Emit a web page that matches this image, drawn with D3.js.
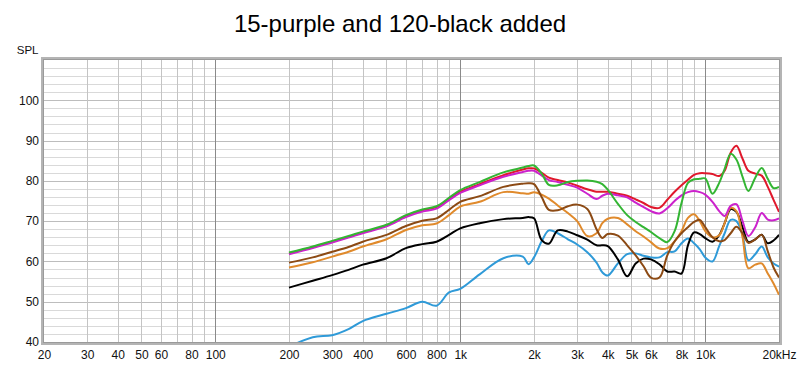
<!DOCTYPE html>
<html>
<head>
<meta charset="utf-8">
<script src="https://cdn.jsdelivr.net/npm/d3@7"></script>
<style>
  html, body { margin: 0; padding: 0; background: #fff; }
  svg { display: block; }
  text { font-family: Arial, "Liberation Sans", sans-serif; }
</style>
</head>
<body>
<script>
// ---- data ----
const title = "15-purple and 120-black added";
const yLabel = "SPL";
const freqs = [200,250,300,350,400,500,600,700,800,900,1000,1200,1500,1800,1900,2000,2150,2300,2500,2750,3000,3300,3600,3800,4000,4400,4800,5200,5600,6000,6500,7000,7500,8000,8500,9000,9500,10000,10700,11400,12000,12700,13400,14200,15000,16000,17000,18000,19000,20000];

const greenSPL   = [62.2,63.7,65.1,66.3,67.4,69.1,71.5,72.9,73.7,75.8,77.7,79.7,82.1,83.3,83.7,83.8,81.8,79.0,78.9,79.7,80.0,80.1,79.8,79.2,77.8,74.3,71.5,69.8,68.5,67.3,65.8,64.8,67.5,74.5,79.5,80.4,80.5,80.6,76.8,79.5,83.0,86.7,85.3,81.0,77.5,80.8,83.2,80.5,78.2,78.5];
const redSPL     = [62.0,63.5,64.9,66.1,67.2,68.9,71.3,72.7,73.5,75.5,77.3,79.2,81.4,82.8,83.1,83.1,82.0,80.8,80.2,79.6,78.8,77.9,77.3,77.3,77.3,76.8,76.3,75.4,74.5,73.5,73.3,75.3,77.3,78.9,80.3,81.5,81.9,81.9,81.7,81.2,82.5,87.0,88.7,85.5,82.5,81.8,81.3,78.5,75.3,72.3];
const magentaSPL = [61.8,63.3,64.7,65.9,67.0,68.7,71.0,72.4,73.1,75.2,77.0,78.9,81.0,82.2,82.5,82.5,81.3,80.2,79.7,79.0,78.3,76.8,75.5,76.3,76.8,76.4,75.9,74.6,73.5,72.5,71.9,73.2,75.0,76.4,77.2,77.5,77.2,76.6,74.8,72.5,71.3,73.8,74.2,70.0,66.3,68.5,72.0,70.4,70.2,70.7];
const brownSPL   = [59.7,61.0,62.4,63.6,64.9,66.6,68.8,70.1,70.7,72.8,74.8,76.2,78.5,79.3,79.4,79.2,76.0,72.8,72.7,73.7,74.1,73.0,68.0,65.8,66.8,66.4,64.0,61.5,58.8,56.0,56.0,61.5,65.0,67.0,68.5,69.8,70.3,68.5,66.0,65.0,65.3,67.0,68.6,67.0,64.6,65.5,66.6,62.5,58.5,56.0];
const orangeSPL  = [58.5,59.8,61.2,62.4,63.7,65.5,67.8,69.0,69.4,71.5,73.6,74.8,77.2,76.9,76.8,77.2,76.6,75.6,73.9,72.0,70.0,66.3,67.0,69.5,70.6,70.8,69.2,67.5,66.2,64.8,63.2,63.3,65.0,67.5,70.8,71.7,70.0,67.5,66.0,66.5,69.5,73.3,72.5,66.0,58.3,59.2,59.5,57.0,54.5,51.7];
const blackSPL   = [53.5,55.2,56.6,57.9,59.2,60.8,63.3,64.3,64.9,66.6,68.2,69.5,70.5,70.8,71.0,70.7,65.3,64.4,67.7,67.4,66.5,65.4,64.0,64.0,63.8,60.5,56.3,59.5,60.7,60.5,59.3,57.5,57.5,57.0,64.0,67.2,66.8,65.8,64.9,66.5,69.5,73.0,72.3,68.5,64.8,65.5,66.6,64.5,65.2,66.6];
const blueSPL    = [38.8,41.2,41.7,43.2,45.2,47.0,48.4,50.0,49.0,52.3,53.2,56.8,60.8,61.2,59.3,61.0,65.0,67.7,67.0,65.5,64.2,62.3,59.7,57.3,56.5,59.5,61.8,62.0,61.4,61.0,61.0,62.3,62.5,64.5,65.7,64.5,63.0,61.0,60.0,63.8,67.0,70.3,70.0,66.5,60.3,61.8,63.7,61.0,59.5,58.7];

const seriesNames  = ["blue","black","orange","brown","red","magenta","green"];
const seriesColors = ["#2f9ad8","#000000","#e08a2c","#8c4a14","#e0182c","#cc22cc","#33b533"];
const seriesValues = [blueSPL, blackSPL, orangeSPL, brownSPL, redSPL, magentaSPL, greenSPL];

const xTickValues = [20,30,40,50,60,80,100,200,300,400,600,800,1000,2000,3000,4000,5000,6000,8000,10000,20000];
const xTickLabels = ["20","30","40","50","60","80","100","200","300","400","600","800","1k","2k","3k","4k","5k","6k","8k","10k","20kHz"];
const xGridMinor  = [30,40,50,60,70,80,90,200,300,400,500,600,700,800,900,2000,3000,4000,5000,6000,7000,8000,9000];
const xGridMajor  = [100,1000,10000];
const yTickValues = [40,50,60,70,80,90,100];

// ---- layout ----
const W = 800, H = 367;
const mLeft = 44, mRight = 779, mTop = 60, mBottom = 342;

const svg = d3.select("body").append("svg").attr("width", W).attr("height", H);

const x = d3.scaleLog().domain([20, 20000]).range([mLeft, mRight]);
const y = d3.scaleLinear().domain([40, 110]).range([mBottom, mTop]);

// title
svg.append("text").attr("x", 400).attr("y", 31.5).attr("text-anchor", "middle")
  .attr("font-size", "24px").attr("fill", "#000").text(title);

// SPL label
svg.append("text").attr("x", 38.5).attr("y", 54).attr("text-anchor", "end")
  .attr("font-size", "11.5px").attr("fill", "#111").text(yLabel);

// horizontal grid
const hLines = d3.range(42, 110, 2);
svg.append("g").selectAll("line").data(hLines).join("line")
  .attr("x1", mLeft).attr("x2", mRight)
  .attr("y1", d => Math.round(y(d)) + 0.5).attr("y2", d => Math.round(y(d)) + 0.5)
  .attr("stroke", d => d % 10 === 0 ? "#bdbdbd" : "#d9d9d9").attr("stroke-width", 1);

// vertical grid
svg.append("g").selectAll("line").data(xGridMinor).join("line")
  .attr("x1", d => Math.round(x(d)) + 0.5).attr("x2", d => Math.round(x(d)) + 0.5)
  .attr("y1", mTop).attr("y2", mBottom)
  .attr("stroke", "#c4c4c4").attr("stroke-width", 1);
svg.append("g").selectAll("line").data(xGridMajor).join("line")
  .attr("x1", d => Math.round(x(d)) + 0.5).attr("x2", d => Math.round(x(d)) + 0.5)
  .attr("y1", mTop).attr("y2", mBottom)
  .attr("stroke", "#8a8a8a").attr("stroke-width", 1);

// curves
svg.append("clipPath").attr("id", "plotclip").append("rect")
  .attr("x", mLeft).attr("y", mTop).attr("width", mRight - mLeft).attr("height", mBottom - mTop);

const line = d3.line()
  .x(d => x(d[0])).y(d => y(d[1]))
  .curve(d3.curveCatmullRom.alpha(0.5));

const curves = svg.append("g").attr("clip-path", "url(#plotclip)");
seriesValues.forEach((vals, i) => {
  curves.append("path")
    .datum(freqs.map((f, j) => [f, vals[j]]))
    .attr("d", line)
    .attr("fill", "none")
    .attr("stroke", seriesColors[i])
    .attr("stroke-width", 2)
    .attr("stroke-linejoin", "round");
});

// frame
svg.append("rect")
  .attr("x", mLeft - 1.5).attr("y", mTop - 1.5)
  .attr("width", mRight - mLeft + 3).attr("height", mBottom - mTop + 3)
  .attr("fill", "none").attr("stroke", "#b4b4b4").attr("stroke-width", 3);
svg.append("rect")
  .attr("x", mLeft - 0.5).attr("y", mTop - 0.5)
  .attr("width", mRight - mLeft + 1).attr("height", mBottom - mTop + 1)
  .attr("fill", "none").attr("stroke", "#9a9a9a").attr("stroke-width", 1);

// x axis labels
const xAxis = d3.axisBottom(x).tickValues(xTickValues)
  .tickFormat((d, i) => xTickLabels[i]).tickSize(0).tickPadding(0);
const gx = svg.append("g").attr("transform", `translate(0,${mBottom + 8})`).call(xAxis);
gx.select(".domain").remove();
gx.selectAll("text").attr("font-size", "12px").attr("fill", "#111")
  .attr("font-family", "Arial, 'Liberation Sans', sans-serif").attr("dy", "0.71em");

// y axis labels
const yAxis = d3.axisLeft(y).tickValues(yTickValues).tickSize(0).tickPadding(0);
const gy = svg.append("g").attr("transform", `translate(${mLeft - 5},0)`).call(yAxis);
gy.select(".domain").remove();
gy.selectAll("text").attr("font-size", "12px").attr("fill", "#111")
  .attr("font-family", "Arial, 'Liberation Sans', sans-serif");
</script>
</body>
</html>
